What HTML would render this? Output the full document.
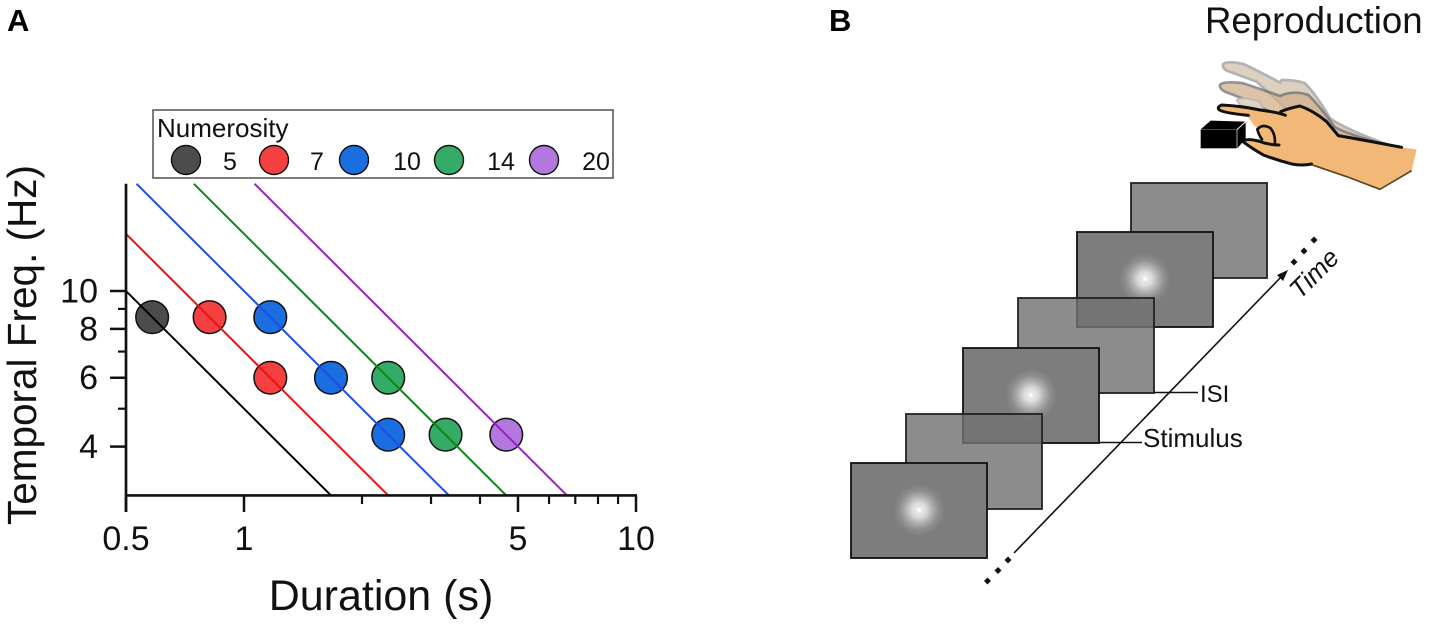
<!DOCTYPE html>
<html lang="en">
<head>
<meta charset="utf-8">
<title>Numerosity reproduction figure</title>
<style>
html,body{margin:0;padding:0;background:#fff;}
svg{display:block;font-family:"Liberation Sans",Arial,sans-serif;}
</style>
</head>
<body>
<svg id="fig" xmlns="http://www.w3.org/2000/svg" width="1429" height="625" viewBox="0 0 1429 625">
<defs>
<radialGradient id="glow">
<stop offset="0" stop-color="#eeeeee"/>
<stop offset="0.25" stop-color="#dedede"/>
<stop offset="0.5" stop-color="#b2b2b2"/>
<stop offset="0.75" stop-color="#8e8e8e"/>
<stop offset="1" stop-color="#7d7d7d"/>
</radialGradient>
</defs>
<rect width="1429" height="625" fill="#fff"/>
<text x="7" y="31" font-size="31" font-weight="bold">A</text>
<text x="829" y="31" font-size="31" font-weight="bold">B</text>

<g id="chartA"></g>

<g id="panelB">
<text x="1205" y="33" font-size="36.6" fill="#111">Reproduction</text>

<g transform="translate(1131,183)">
<rect width="136" height="95" fill="#8c8c8c" stroke="#222" stroke-width="1.8"/>
</g>
<g transform="translate(1077,232)">
<rect width="136" height="95" fill="#7d7d7d" stroke="#111" stroke-width="1.8"/>
<circle cx="68" cy="47" r="26" fill="url(#glow)"/>
<rect x="66.3" y="45.3" width="3.4" height="3.4" fill="#fff"/>
</g>
<g transform="translate(1018,298)">
<rect width="136" height="95" fill="#727272" fill-opacity="0.815" stroke="#222" stroke-width="1.8"/>
</g>
<line x1="1154" y1="392.5" x2="1198" y2="392.5" stroke="#111" stroke-width="1.5"/>
<g transform="translate(963,348)">
<rect width="136" height="95" fill="#7d7d7d" stroke="#111" stroke-width="1.8"/>
<circle cx="68" cy="47" r="26" fill="url(#glow)"/>
<rect x="66.3" y="45.3" width="3.4" height="3.4" fill="#fff"/>
</g>
<line x1="1099" y1="442.5" x2="1142" y2="442.5" stroke="#111" stroke-width="1.5"/>
<g transform="translate(906,414)">
<rect width="136" height="95" fill="#727272" fill-opacity="0.815" stroke="#222" stroke-width="1.8"/>
</g>
<g transform="translate(851,463)">
<rect width="136" height="95" fill="#7d7d7d" stroke="#111" stroke-width="1.8"/>
<circle cx="68" cy="47" r="26" fill="url(#glow)"/>
<rect x="66.3" y="45.3" width="3.4" height="3.4" fill="#fff"/>
</g>

<line x1="1014" y1="553" x2="1283" y2="275" stroke="#111" stroke-width="1.6"/>
<polygon points="1288,270 1283,281 1277,275" fill="#111"/>
<g fill="#111">
<polygon points="1008,556.5 1011.5,560 1008,563.5 1004.5,560"/>
<polygon points="998,567 1001.5,570.5 998,574 994.5,570.5"/>
<polygon points="987.5,577.5 991,581 987.5,584.5 984,581"/>
</g>
<g fill="#111">
<polygon points="1294,258.5 1297.5,262 1294,265.5 1290.5,262"/>
<polygon points="1304,247.5 1307.5,251 1304,254.5 1300.5,251"/>
<polygon points="1314,236.5 1317.5,240 1314,243.5 1310.5,240"/>
</g>
<text transform="translate(1300,300) rotate(-45)" font-size="26" font-style="italic" fill="#111">Time</text>
<text x="1200" y="402" font-size="24" fill="#111">ISI</text>
<text x="1143" y="447" font-size="26" fill="#111">Stimulus</text>

<g transform="translate(1180,40) scale(0.3333)">
<g opacity="0.6">
<path d="M130,72 Q140,62 190,72 Q240,95 300,128 L305,120 Q350,120 375,130 Q410,165 450,235 Q500,270 640,320 L500,320 L380,260 L300,190 L230,125 L140,92 Q125,82 130,72 Z" fill="#c6b199" stroke="#808080" stroke-width="8" stroke-linejoin="round"/>
</g>
<g opacity="0.75">
<path d="M120,135 Q130,122 190,130 Q250,150 300,168 Q340,150 385,165 Q420,200 465,262 Q520,290 650,322 L480,320 L380,270 L280,220 L200,180 L135,155 Q118,146 120,135 Z" fill="#d2b08a" stroke="#6e6e6e" stroke-width="8" stroke-linejoin="round"/>
<path d="M170,180 Q190,168 240,185 L260,230 L200,225 Z" fill="#d9c4ac" stroke="#a0a0a0" stroke-width="5"/>
</g>
<path d="M116,205 Q125,192 185,198 Q245,210 300,218 Q325,205 360,198 Q400,212 440,245 L475,287 Q560,302 660,322 L710,328 L695,392 L600,448 L500,410 L400,378 Q360,378 335,372 Q300,362 250,345 Q215,325 190,306 Q195,293 235,300 L240,290 L228,265 L205,232 Q170,220 130,218 Q115,214 116,205 Z" fill="#f2b877"/>
<polygon points="198,235 230,262 238,292 205,290" fill="#fff"/>
<path d="M232,268 Q248,250 272,265 Q288,285 284,315 L245,298 Z" fill="#f2b877"/>
<path d="M316,226 Q300,218 240,210 Q185,198 125,195 Q112,200 116,208 Q125,218 205,226 M475,287 L440,245 Q400,212 360,198 Q325,205 302,215 M475,287 Q560,302 665,322" fill="none" stroke="#111" stroke-width="9" stroke-linecap="round" stroke-linejoin="round"/>
<path d="M190,306 Q195,293 235,303 Q265,315 297,315 M190,306 Q215,325 250,345 Q290,360 335,372 Q365,378 395,372" fill="none" stroke="#111" stroke-width="9" stroke-linecap="round" stroke-linejoin="round"/>
<path d="M232,268 Q248,250 272,265 Q288,285 284,315 M232,268 Q236,285 246,298" fill="none" stroke="#111" stroke-width="8" stroke-linecap="round"/>
<path d="M395,374 L500,410 L600,448 L695,392" fill="none" stroke="#5e4522" stroke-width="5" stroke-linejoin="round"/>
<g>
<polygon points="62,268 92,242 195,245 170,268" fill="#000"/>
<polygon points="172,270 197,247 197,296 172,325" fill="#000"/>
<rect x="62" y="269" width="108" height="56" fill="#000"/>
</g>
</g>
</g>
</svg>

<script>
var numerosities = [5, 7, 10, 14, 20];
var lineStartDuration = [0.5, 0.5, 0.532, 0.745, 1.064];
var lineStartFreq = [10, 14, 18.8, 18.8, 18.8];
var lineEndDuration = [1.667, 2.333, 3.333, 4.667, 6.667];
var lineEndFreq = [3, 3, 3, 3, 3];
var pointNumerosity = [5, 7, 10, 7, 10, 14, 10, 14, 20];
var pointDuration = [0.583, 0.817, 1.167, 1.167, 1.667, 2.333, 2.333, 3.267, 4.667];
var pointFreq = [8.57, 8.57, 8.57, 6, 6, 6, 4.29, 4.29, 4.29];
var xMajorTicks = [0.5, 1, 5, 10];
var xMinorTicks = [2, 3, 4, 6, 7, 8, 9];
var yMajorTicks = [4, 6, 8, 10];
var yMinorTicks = [5, 7, 9];
var xTickLabels = ['0.5', '1', '5', '10'];
var yTickLabels = ['4', '6', '8', '10'];

var lineColors = ['#000000', '#f01010', '#1a50e8', '#0a880f', '#9a1fc8'];
var dotColors = ['#4c4c4c', '#f44040', '#1a6ee0', '#35ab68', '#b278de'];
var legendCircleX = [186, 274, 354, 449, 544];
var legendTextX = [230, 317, 407, 501, 596];

var NS = 'http://www.w3.org/2000/svg';
var root = document.getElementById('chartA');

function xScale(d) { return 126 + 392 * Math.log10(d / 0.5); }
function yScale(f) { return 291 + 391 * Math.log10(10 / f); }

function make(tag, parent, attrs) {
  var el = document.createElementNS(NS, tag);
  for (var k in attrs) { el.setAttribute(k, attrs[k]); }
  parent.appendChild(el);
  return el;
}

var legend = make('g', root, {});


var legendBox = make('rect', legend, {x: 153, y: 110, width: 460, height: 68, fill: '#fff', stroke: '#444', 'stroke-width': 1.4});


var legendTitle = make('text', legend, {x: 157, y: 137, 'font-size': 26, fill: '#111'});
legendTitle.textContent = 'Numerosity';


numerosities.forEach(function (n, i) {
  var c = make('circle', legend, {cx: legendCircleX[i], cy: 160, r: 14.5, fill: dotColors[i], stroke: '#111', 'stroke-width': 1.4});
  
  
  var t = make('text', legend, {x: legendTextX[i], y: 170, 'font-size': 25, 'text-anchor': 'middle', fill: '#111'});
  t.textContent = String(n);
  
  
});

pointNumerosity.forEach(function (n, i) {
  var c = make('circle', root, {cx: xScale(pointDuration[i]), cy: yScale(pointFreq[i]), r: 16.3, fill: dotColors[numerosities.indexOf(n)], stroke: '#111', 'stroke-width': 1.5});
  
  
});

numerosities.forEach(function (n, i) {
  var l = make('line', root, {
    x1: xScale(lineStartDuration[i]), y1: yScale(lineStartFreq[i]),
    x2: xScale(lineEndDuration[i]), y2: yScale(lineEndFreq[i]),
    stroke: lineColors[i], 'stroke-width': 2
  });
  
  
});

var axisColor = '#111';
var yAxis = make('line', root, {x1: 126, y1: yScale(18.8), x2: 126, y2: 512, stroke: axisColor, 'stroke-width': 2.7});


var xAxis = make('line', root, {x1: 125, y1: yScale(3), x2: xScale(10) + 1, y2: yScale(3), stroke: axisColor, 'stroke-width': 2.7});



xMajorTicks.forEach(function (v, i) {
  var x = xScale(v);
  var tk = make('line', root, {x1: x, y1: yScale(3), x2: x, y2: 512, stroke: axisColor, 'stroke-width': 2.5});
  
  
  var t = make('text', root, {x: x, y: 550, 'font-size': 34, 'text-anchor': 'middle', fill: '#111'});
  t.textContent = xTickLabels[i];
  
  
});
xMinorTicks.forEach(function (v) {
  var x = xScale(v);
  var tk = make('line', root, {x1: x, y1: yScale(3), x2: x, y2: 504, stroke: axisColor, 'stroke-width': 2.2});
  
  
});
yMajorTicks.forEach(function (v, i) {
  var y = yScale(v);
  var tk = make('line', root, {x1: 110, y1: y, x2: 126, y2: y, stroke: axisColor, 'stroke-width': 2.5});
  
  
  var t = make('text', root, {x: 98, y: y + 11.5, 'font-size': 34, 'text-anchor': 'end', fill: '#111'});
  t.textContent = yTickLabels[i];
  
  
});
yMinorTicks.forEach(function (v) {
  var y = yScale(v);
  var tk = make('line', root, {x1: 118, y1: y, x2: 126, y2: y, stroke: axisColor, 'stroke-width': 2.2});
  
  
});

var xTitle = make('text', root, {x: 381, y: 610, 'font-size': 43, 'text-anchor': 'middle', fill: '#111'});
xTitle.textContent = 'Duration (s)';


var yTitle = make('text', root, {transform: 'translate(36,345) rotate(-90)', 'font-size': 40.5, 'text-anchor': 'middle', fill: '#111'});
yTitle.textContent = 'Temporal Freq. (Hz)';


</script>
</body>
</html>
